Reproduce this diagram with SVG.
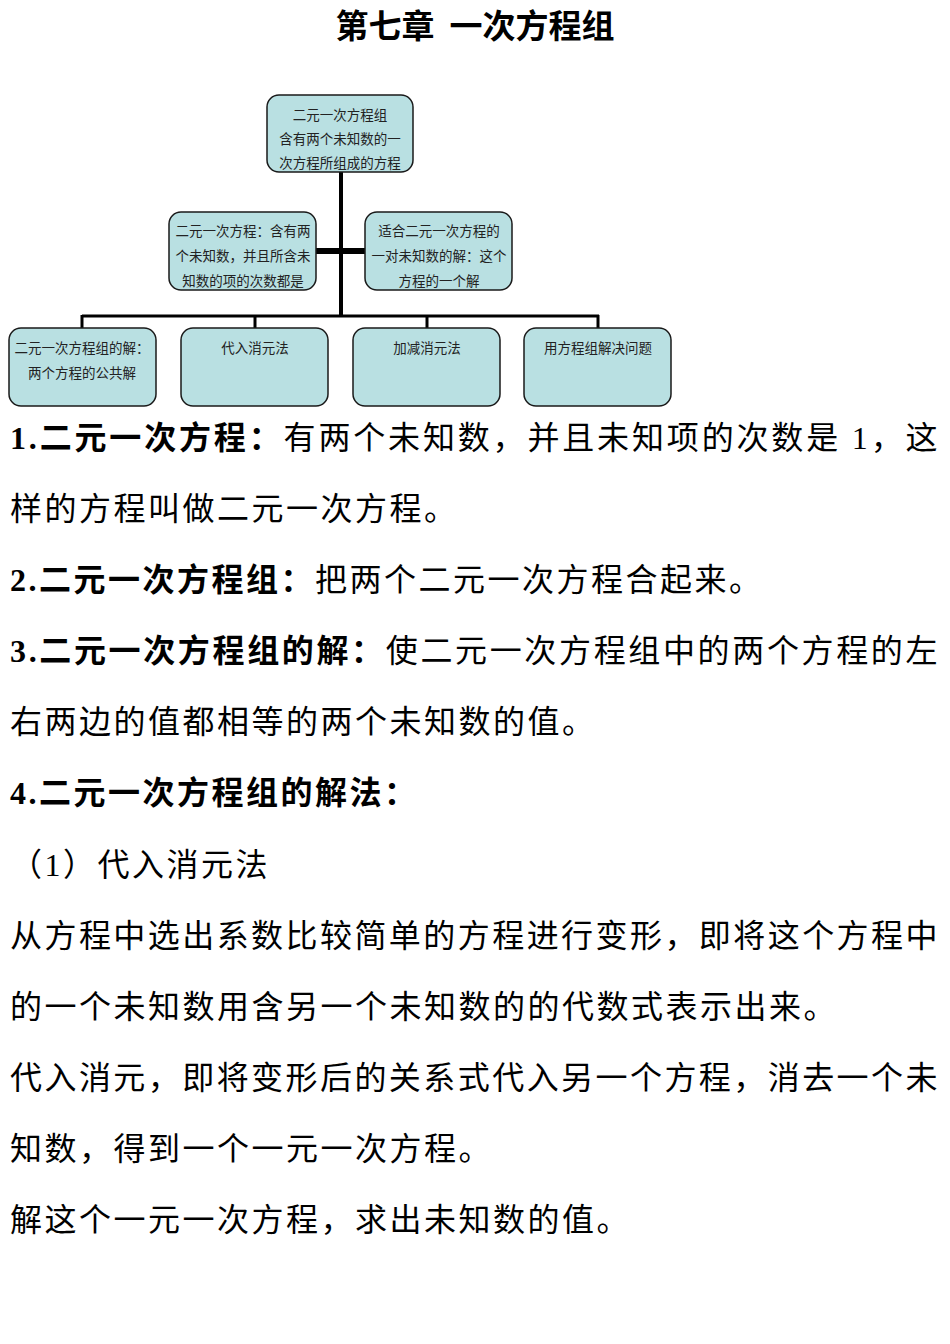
<svg xmlns="http://www.w3.org/2000/svg" width="950" height="1344" viewBox="0 0 950 1344">
<style>
.n{fill:#b9e0e2;stroke:#1a1a1a;stroke-width:1.5}
.s{font-family:"Liberation Serif","Noto Sans CJK SC",serif;font-size:13.5px;fill:#222;text-anchor:middle}
.b{font-family:"Liberation Serif","Noto Sans CJK SC",serif;font-size:32px;fill:#000;letter-spacing:2.5px}
.bb{font-weight:bold}
.c{stroke:#000;fill:none}
</style>
<rect width="950" height="1344" fill="#fff"/>
<text x="475" y="38" text-anchor="middle" font-family="'Noto Sans CJK SC',sans-serif" font-weight="bold" font-size="33" xml:space="preserve">第七章  一次方程组</text>
<g id="connectors" class="c">
<line x1="341" y1="172" x2="341" y2="316" stroke-width="4"/>
<line x1="316" y1="251" x2="365" y2="251" stroke-width="6"/>
<line x1="82" y1="316" x2="599" y2="316" stroke-width="3"/>
<line x1="82" y1="315" x2="82" y2="329" stroke-width="3"/>
<line x1="255" y1="315" x2="255" y2="329" stroke-width="3"/>
<line x1="427" y1="315" x2="427" y2="329" stroke-width="3"/>
<line x1="598" y1="315" x2="598" y2="329" stroke-width="3"/>
</g>
<g id="n0"><rect class="n" x="267" y="95" width="146" height="77" rx="12"/>
<text class="s" x="340" y="120">二元一次方程组</text><text class="s" x="340" y="144">含有两个未知数的一</text><text class="s" x="340" y="168">次方程所组成的方程</text></g>
<g id="n1"><rect class="n" x="169" y="212" width="147" height="78" rx="12"/>
<text class="s" x="243" y="236">二元一次方程：含有两</text><text class="s" x="243" y="261">个未知数，并且所含未</text><text class="s" x="243" y="286">知数的项的次数都是</text></g>
<g id="n2"><rect class="n" x="365" y="212" width="147" height="78" rx="12"/>
<text class="s" x="439" y="236">适合二元一次方程的</text><text class="s" x="439" y="261">一对未知数的解：这个</text><text class="s" x="439" y="286">方程的一个解</text></g>
<g id="n3"><rect class="n" x="9" y="328" width="147" height="78" rx="12"/>
<text class="s" x="82" y="353">二元一次方程组的解：</text><text class="s" x="82" y="378">两个方程的公共解</text></g>
<g id="n4"><rect class="n" x="181" y="328" width="147" height="78" rx="12"/>
<text class="s" x="255" y="353">代入消元法</text></g>
<g id="n5"><rect class="n" x="353" y="328" width="147" height="78" rx="12"/>
<text class="s" x="427" y="353">加减消元法</text></g>
<g id="n6"><rect class="n" x="524" y="328" width="147" height="78" rx="12"/>
<text class="s" x="598" y="353">用方程组解决问题</text></g>
<g id="body">
<text class="b" x="10" y="449" textLength="930" lengthAdjust="spacing"><tspan class="bb">1.二元一次方程：</tspan>有两个未知数，并且未知项的次数是 1，这</text>
<text class="b" x="10" y="520">样的方程叫做二元一次方程。</text>
<text class="b" x="10" y="591"><tspan class="bb">2.二元一次方程组：</tspan>把两个二元一次方程合起来。</text>
<text class="b" x="10" y="662" textLength="930" lengthAdjust="spacing"><tspan class="bb">3.二元一次方程组的解：</tspan>使二元一次方程组中的两个方程的左</text>
<text class="b" x="10" y="733">右两边的值都相等的两个未知数的值。</text>
<text class="b bb" x="10" y="804">4.二元一次方程组的解法：</text>
<text class="b" x="10" y="876">（1）代入消元法</text>
<text class="b" x="10" y="947" textLength="930" lengthAdjust="spacing">从方程中选出系数比较简单的方程进行变形，即将这个方程中</text>
<text class="b" x="10" y="1018">的一个未知数用含另一个未知数的的代数式表示出来。</text>
<text class="b" x="10" y="1089" textLength="930" lengthAdjust="spacing">代入消元，即将变形后的关系式代入另一个方程，消去一个未</text>
<text class="b" x="10" y="1160">知数，得到一个一元一次方程。</text>
<text class="b" x="10" y="1231">解这个一元一次方程，求出未知数的值。</text>
</g>
</svg>
